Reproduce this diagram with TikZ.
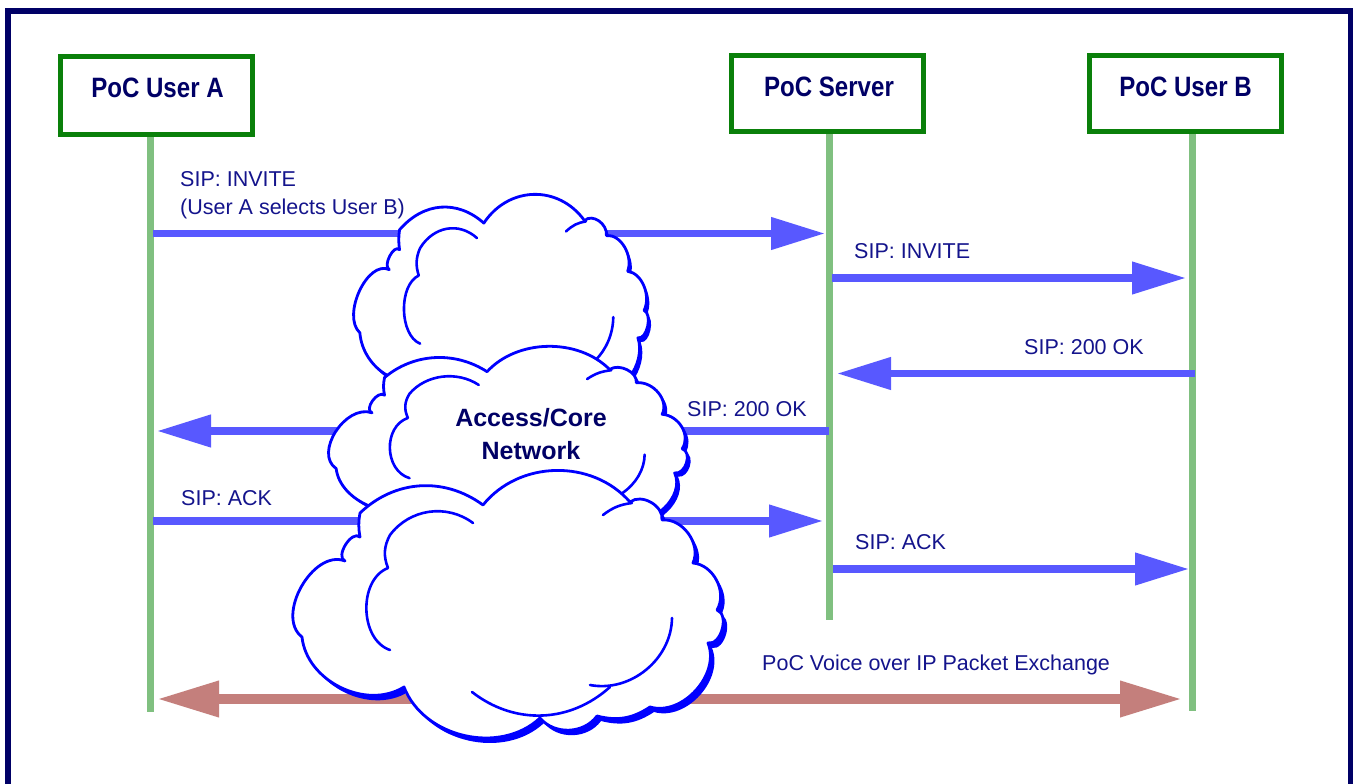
\documentclass[tikz,border=0pt]{standalone}
\usepackage{fontspec}
\setmainfont{Liberation Sans}
\newfontfamily\titlefont{Liberation Sans}[FakeStretch=0.86]
\usetikzlibrary{arrows.meta}
\definecolor{navy}{HTML}{000066}
\definecolor{boxgreen}{HTML}{0A800A}
\definecolor{lifegreen}{HTML}{80C080}
\definecolor{msgblue}{HTML}{5858FF}
\definecolor{cloudblue}{HTML}{0000FF}
\definecolor{voice}{HTML}{C47F7C}
\definecolor{labelblue}{HTML}{14148C}
\newcommand\cloudoutline{%
  (360,513) to[pf=40] (483,505) to[pf=50] (630,502) to[pf=68] (662,520)
  to[pf=60] (693,563) to[pf=58] (717,610) to[pf=86] (708,643)
  to[pf=64] (650,707) to[pf=24] (597,716) to[pf=52] (540,718)
  to[pf=56] (404,687) to[pf=58] (302,637) to[pf=82] (345,561)
  to[pf=100] (360,537) to[pf=10] (360,513) -- cycle}
% #1,#2 = top-left corner, #3 = width, #4 = height
\newcommand\mycloud[4]{%
  \begin{scope}[shift={(#1,#2)}, xscale=#3/457, yscale=#4/267, shift={(-273,-470)}]
    \fill[cloudblue, shift={(4,5)}] \cloudoutline;
    \filldraw[fill=white, draw=cloudblue, line width=2.8pt, line join=round] \cloudoutline;
    \draw[cstroke] (473,523) to[pf=-45] (390,535) to[pf=-25] (388,568)
                   to[pf=-70] (390,650);
    \draw[cstroke] (603,515) to[pf=15] (632,503);
    \draw[cstroke] (672,618) to[pf=50] (590,685);
    \draw[cstroke] (472,692) to[pf=-40] (610,687);
  \end{scope}
}
\begin{document}
\begin{tikzpicture}[x=1pt,y=-1pt,
  pf/.style={bend left=#1},
  actor/.style={draw=boxgreen, line width=5pt, fill=white, minimum width=192pt, inner sep=0pt},
  title/.style={text=navy, font=\titlefont\bfseries\fontsize{28}{30}\selectfont, inner sep=0pt},
  life/.style={draw=lifegreen, line width=7pt},
  msg/.style={draw=msgblue, line width=7.5pt, -{Triangle[length=54pt,width=31pt]}},
  voicearrow/.style={draw=voice, line width=10pt, {Triangle[length=62pt,width=34pt]}-{Triangle[length=62pt,width=34pt]}},
  lbl/.style={text=labelblue, font=\fontsize{21.5}{24}\selectfont, inner sep=0pt, anchor=base west},
  cstroke/.style={draw=cloudblue, line width=2.6pt, line cap=round, line join=round},
  cloudtext/.style={text=navy, font=\bfseries\fontsize{25}{33}\selectfont, align=center, inner sep=0pt}
]
\useasboundingbox (0,0) rectangle (1353,784);
\fill[white] (0,0) rectangle (1353,784);
\draw[navy, line width=6pt] (8,11) rectangle (1351,830);

% actors
\node[actor, minimum height=78pt] (A) at (156.5,95.5) {};
\node[actor, minimum height=76pt] (S) at (827.5,93.5) {};
\node[actor, minimum height=76pt] (B) at (1185.5,93.5) {};
\node[title, anchor=base] (At) at (157.5,98) {PoC User A};
\node[title, anchor=base] (St) at (829,96) {PoC Server};
\node[title, anchor=base] (Bt) at (1185.5,96) {PoC User B};

% lifelines
\coordinate (Atop) at (150.3,137);
\coordinate (Abot) at (150.3,712);
\coordinate (Stop) at (829,134);
\coordinate (Sbot) at (829,620);
\coordinate (Btop) at (1192,134);
\coordinate (Bbot) at (1192,711);
\draw[life] (Atop) -- (Abot);
\draw[life] (Stop) -- (Sbot);
\draw[life] (Btop) -- (Bbot);

% message end points
\coordinate (m1a) at (153,233.5);  \coordinate (m1b) at (825,233.5);
\coordinate (m2a) at (832,278);    \coordinate (m2b) at (1186,278);
\coordinate (m3a) at (1195,373.5); \coordinate (m3b) at (837,373.5);
\coordinate (m4a) at (829,431);    \coordinate (m4b) at (157,431);
\coordinate (m5a) at (153,521);    \coordinate (m5b) at (823,521);
\coordinate (m6a) at (833,569);    \coordinate (m6b) at (1189,569);
\coordinate (v1) at (157,699);     \coordinate (v2) at (1182,699);

\draw[msg] (m1a) -- (m1b);
\draw[msg] (m2a) -- (m2b);
\draw[msg] (m3a) -- (m3b);
\draw[msg] (m4a) -- (m4b);
\draw[msg] (m5a) -- (m5b);
\draw[msg] (m6a) -- (m6b);
\draw[voicearrow] (v1) -- (v2);

% clouds
\mycloud{340}{194}{313}{222}
\mycloud{312}{346}{381}{196}
\mycloud{273}{470}{457}{267}
\node[cloudtext] (net) at (531,434) {Access/Core\\Network};

% labels
\node[lbl] (l1) at (180,186) {SIP: INVITE};
\node[lbl] (l1b) at (180,214) {(User A selects User B)};
\node[lbl] (l2) at (854,258) {SIP: INVITE};
\node[lbl] (l3) at (1024,354) {SIP: 200 OK};
\node[lbl] (l4) at (687,416) {SIP: 200 OK};
\node[lbl] (l5) at (181,505) {SIP: ACK};
\node[lbl] (l6) at (855,549) {SIP: ACK};
\node[lbl] (l7) at (762,670) {PoC Voice over IP Packet Exchange};
\end{tikzpicture}
\end{document}
